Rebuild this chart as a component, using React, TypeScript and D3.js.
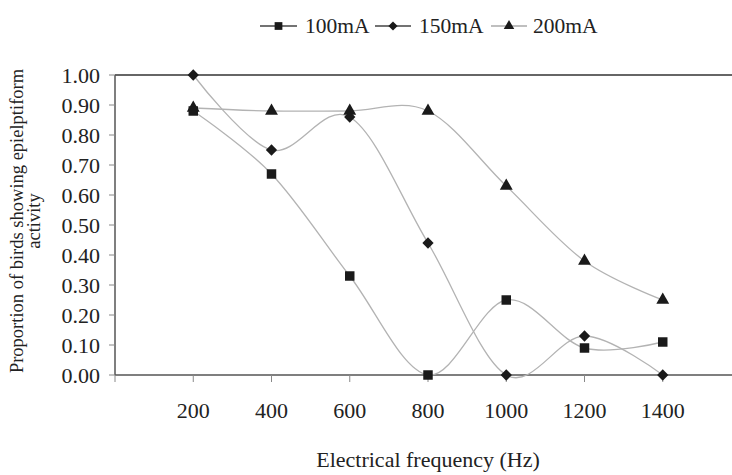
import React, { useEffect, useRef } from 'react';
import * as d3 from 'd3';

const frequencies = [200, 400, 600, 800, 1000, 1200, 1400];
const xTicks = [0, 200, 400, 600, 800, 1000, 1200, 1400, 1600];
const xTickLabels = ['200', '400', '600', '800', '1000', '1200', '1400'];
const yTicks = [0, 0.1, 0.2, 0.3, 0.4, 0.5, 0.6, 0.7, 0.8, 0.9, 1.0];

const seriesNames = ['100mA', '150mA', '200mA'];
const values100 = [0.88, 0.67, 0.33, 0.0, 0.25, 0.09, 0.11];
const values150 = [1.0, 0.75, 0.86, 0.44, 0.0, 0.13, 0.0];
const values200 = [0.89, 0.88, 0.88, 0.88, 0.63, 0.38, 0.25];
const markerTypes = ['square', 'diamond', 'triangle'];

const width = 732;
const height = 475;
const FONT = '"Liberation Serif", "Times New Roman", serif';

const App = () => {
    const svgRef = useRef<SVGSVGElement>(null);

    useEffect(() => {
        const svg = d3.select(svgRef.current);
        svg.selectAll('*').remove();

        const x = d3.scaleLinear().domain([0, 1600]).range([115, 741]);
        const y = d3.scaleLinear().domain([0, 1]).range([375, 75]);

        const symbolFor = (t: string, size: number) => {
            if (t === 'square') return d3.symbol().type(d3.symbolSquare).size(size)();
            if (t === 'diamond') return d3.symbol().type(d3.symbolDiamond2).size(size * 0.9)();
            return d3.symbol().type(d3.symbolTriangle).size(size * 0.8)();
        };

        // top border line at 1.00
        svg.append('line')
            .attr('x1', x(0)).attr('x2', width)
            .attr('y1', y(1)).attr('y2', y(1))
            .attr('stroke', '#666').attr('stroke-width', 2);

        // y axis
        svg.append('line')
            .attr('x1', x(0)).attr('x2', x(0))
            .attr('y1', y(1)).attr('y2', y(0))
            .attr('stroke', '#555').attr('stroke-width', 1.5);
        svg.selectAll('.ytick')
            .data(yTicks)
            .enter()
            .append('line')
            .attr('x1', x(0) - 6).attr('x2', x(0))
            .attr('y1', d => y(d)).attr('y2', d => y(d))
            .attr('stroke', '#888').attr('stroke-width', 1);
        svg.selectAll('.ylabel')
            .data(yTicks)
            .enter()
            .append('text')
            .attr('x', 100)
            .attr('y', d => y(d) + 7.5)
            .attr('text-anchor', 'end')
            .style('font-family', FONT)
            .style('font-size', '22px')
            .attr('fill', '#222')
            .text(d => d.toFixed(2));

        // x axis
        svg.append('line')
            .attr('x1', x(0)).attr('x2', width)
            .attr('y1', y(0)).attr('y2', y(0))
            .attr('stroke', '#555').attr('stroke-width', 1.5);
        svg.selectAll('.xtick')
            .data(xTicks)
            .enter()
            .append('line')
            .attr('x1', d => x(d)).attr('x2', d => x(d))
            .attr('y1', y(0)).attr('y2', y(0) + 7)
            .attr('stroke', '#888').attr('stroke-width', 1);
        svg.selectAll('.xlabel')
            .data(frequencies)
            .enter()
            .append('text')
            .attr('x', d => x(d))
            .attr('y', 418)
            .attr('text-anchor', 'middle')
            .style('font-family', FONT)
            .style('font-size', '22px')
            .attr('fill', '#222')
            .text((d, i) => xTickLabels[i]);

        // axis titles
        svg.append('text')
            .attr('x', 428)
            .attr('y', 467)
            .attr('text-anchor', 'middle')
            .style('font-family', FONT)
            .style('font-size', '22px')
            .attr('fill', '#222')
            .text('Electrical frequency (Hz)');

        const yTitle = svg.append('text')
            .attr('transform', 'translate(23,221) rotate(-90)')
            .attr('text-anchor', 'middle')
            .style('font-family', FONT)
            .style('font-size', '18.5px')
            .attr('fill', '#222');
        yTitle.append('tspan').attr('x', 0).attr('dy', 0).text('Proportion of birds showing epielptiform');
        yTitle.append('tspan').attr('x', 0).attr('dy', 17).text('activity');

        // series
        const allSeries = [values200, values150, values100];
        const allMarkers = [markerTypes[2], markerTypes[1], markerTypes[0]];

        const line = d3.line<number>()
            .x((d, i) => x(frequencies[i]))
            .y(d => y(d))
            .curve(d3.curveCardinal.tension(0));

        allSeries.forEach(vals => {
            svg.append('path')
                .datum(vals)
                .attr('fill', 'none')
                .attr('stroke', '#b3b3b3')
                .attr('stroke-width', 1.3)
                .attr('d', line);
        });

        allSeries.forEach((vals, si) => {
            svg.selectAll(`.m${si}`)
                .data(vals)
                .enter()
                .append('path')
                .attr('transform', (d, i) => `translate(${x(frequencies[i])},${y(d)})`)
                .attr('d', symbolFor(allMarkers[si], 90))
                .attr('fill', '#1a1a1a');
        });

        // legend
        const legendItems = [
            { name: seriesNames[0], marker: markerTypes[0], x1: 260, x2: 297, tx: 305 },
            { name: seriesNames[1], marker: markerTypes[1], x1: 375, x2: 411, tx: 419 },
            { name: seriesNames[2], marker: markerTypes[2], x1: 491, x2: 527, tx: 533 },
        ];
        legendItems.forEach(item => {
            svg.append('line')
                .attr('x1', item.x1).attr('x2', item.x2)
                .attr('y1', 26).attr('y2', 26)
                .attr('stroke', item.marker === 'triangle' ? '#aaa' : '#444')
                .attr('stroke-width', 1.3);
            svg.append('path')
                .attr('transform', `translate(${(item.x1 + item.x2) / 2},26)`)
                .attr('d', symbolFor(item.marker, 60))
                .attr('fill', '#1a1a1a');
            svg.append('text')
                .attr('x', item.tx)
                .attr('y', 33)
                .style('font-family', FONT)
                .style('font-size', '21.5px')
                .attr('fill', '#222')
                .text(item.name);
        });
    }, []);

    return (
        <div style={{ position: 'absolute', left: 0, top: 0, background: '#fff' }}>
            <svg ref={svgRef} width={width} height={height}></svg>
        </div>
    );
};

export default App;
